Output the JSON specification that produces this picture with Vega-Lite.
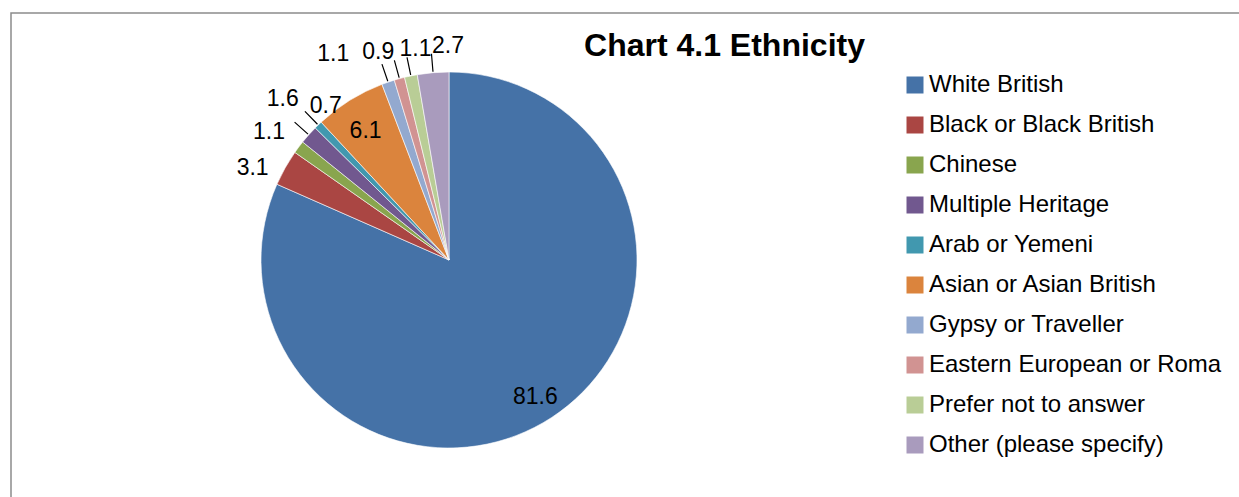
{
  "$schema": "https://vega.github.io/schema/vega-lite/v6.json",
  "width": 1239,
  "height": 497,
  "autosize": {"type": "fit", "contains": "padding"},
  "padding": {"left": 11, "top": 13, "right": -3, "bottom": -3},
  "background": "white",
  "config": {"view": {"stroke": "#8c8c8c", "strokeWidth": 1.5}, "font": "Liberation Sans"},
  "title": {"text": "Chart 4.1 Ethnicity", "fontSize": 32, "fontWeight": "bold", "font": "Liberation Sans", "color": "black", "anchor": "middle", "frame": "group", "offset": -39, "dx": 98, "dy": 36, "baseline": "alphabetic"},
  "data": {"values": [
    {"category": "White British", "value": 81.6, "rank": 1},
    {"category": "Black or Black British", "value": 3.1, "rank": 2},
    {"category": "Chinese", "value": 1.1, "rank": 3},
    {"category": "Multiple Heritage", "value": 1.6, "rank": 4},
    {"category": "Arab or Yemeni", "value": 0.7, "rank": 5},
    {"category": "Asian or Asian British", "value": 6.1, "rank": 6},
    {"category": "Gypsy or Traveller", "value": 1.1, "rank": 7},
    {"category": "Eastern European or Roma", "value": 0.9, "rank": 8},
    {"category": "Prefer not to answer", "value": 1.1, "rank": 9},
    {"category": "Other (please specify)", "value": 2.7, "rank": 10}
  ]},
  "encoding": {
    "theta": {"field": "value", "type": "quantitative", "stack": true},
    "order": {"field": "rank", "type": "quantitative"},
    "x": {"value": 438},
    "y": {"value": 247}
  },
  "layer": [
    {
      "mark": {"type": "arc", "radius": 188, "stroke": "white", "strokeWidth": 0.6},
      "encoding": {
        "color": {
          "field": "category", "type": "nominal",
          "scale": {
            "domain": ["White British", "Black or Black British", "Chinese", "Multiple Heritage", "Arab or Yemeni", "Asian or Asian British", "Gypsy or Traveller", "Eastern European or Roma", "Prefer not to answer", "Other (please specify)"],
            "range": ["#4572A7", "#AA4643", "#89A54E", "#71588F", "#4198AF", "#DB843D", "#93A9CF", "#D19392", "#B9CD96", "#A99BBD"]
          },
          "legend": {"orient": "none", "legendX": 892, "legendY": 60, "title": null, "symbolType": "square", "symbolSize": 289, "symbolStrokeWidth": 0, "symbolOpacity": 1, "labelFontSize": 24, "labelFont": "Liberation Sans", "labelColor": "black", "rowPadding": 16, "labelOffset": 2, "padding": 0, "labelLimit": 400}
        }
      }
    },
    {
      "mark": {"type": "arc", "radius": 207, "radius2": 189, "padAngle": 1.2, "fill": "transparent", "strokeWidth": 1.2},
      "encoding": {
        "stroke": {"condition": {"test": "indexof(['Multiple Heritage','Arab or Yemeni','Gypsy or Traveller','Eastern European or Roma','Prefer not to answer','Other (please specify)'], datum.category) >= 0", "value": "black"}, "value": "transparent"}
      }
    },
    {
      "mark": {"type": "text", "radius": 158, "dy": 5, "fontSize": 23, "font": "Liberation Sans", "color": "black", "align": "center", "baseline": "middle"},
      "encoding": {"text": {"field": "value", "type": "quantitative", "format": ".1f", "condition": {"test": "datum.category !== 'White British' && datum.category !== 'Asian or Asian British'", "value": ""}}}
    },
    {
      "mark": {"type": "text", "radius": 200, "dx": -22, "dy": 6, "fontSize": 23, "font": "Liberation Sans", "color": "black", "align": "center", "baseline": "middle"},
      "encoding": {"text": {"field": "value", "type": "quantitative", "format": ".1f", "condition": {"test": "datum.category !== 'Black or Black British'", "value": ""}}}
    },
    {
      "mark": {"type": "text", "radius": 200, "dx": -20, "dy": -8, "fontSize": 23, "font": "Liberation Sans", "color": "black", "align": "center", "baseline": "middle"},
      "encoding": {"text": {"field": "value", "type": "quantitative", "format": ".1f", "condition": {"test": "datum.category !== 'Chinese'", "value": ""}}}
    },
    {
      "mark": {"type": "text", "radius": 200, "dx": -17, "dy": -28, "fontSize": 23, "font": "Liberation Sans", "color": "black", "align": "center", "baseline": "middle"},
      "encoding": {"text": {"field": "value", "type": "quantitative", "format": ".1f", "condition": {"test": "datum.category !== 'Multiple Heritage'", "value": ""}}}
    },
    {
      "mark": {"type": "text", "radius": 200, "dx": 16, "dy": -10, "fontSize": 23, "font": "Liberation Sans", "color": "black", "align": "center", "baseline": "middle"},
      "encoding": {"text": {"field": "value", "type": "quantitative", "format": ".1f", "condition": {"test": "datum.category !== 'Arab or Yemeni'", "value": ""}}}
    },
    {
      "mark": {"type": "text", "radius": 200, "dx": -51, "dy": -17, "fontSize": 23, "font": "Liberation Sans", "color": "black", "align": "center", "baseline": "middle"},
      "encoding": {"text": {"field": "value", "type": "quantitative", "format": ".1f", "condition": {"test": "datum.category !== 'Gypsy or Traveller'", "value": ""}}}
    },
    {
      "mark": {"type": "text", "radius": 200, "dx": -18, "dy": -15, "fontSize": 23, "font": "Liberation Sans", "color": "black", "align": "center", "baseline": "middle"},
      "encoding": {"text": {"field": "value", "type": "quantitative", "format": ".1f", "condition": {"test": "datum.category !== 'Eastern European or Roma'", "value": ""}}}
    },
    {
      "mark": {"type": "text", "radius": 200, "dx": 7, "dy": -15, "fontSize": 23, "font": "Liberation Sans", "color": "black", "align": "center", "baseline": "middle"},
      "encoding": {"text": {"field": "value", "type": "quantitative", "format": ".1f", "condition": {"test": "datum.category !== 'Prefer not to answer'", "value": ""}}}
    },
    {
      "mark": {"type": "text", "radius": 200, "dx": 16, "dy": -15, "fontSize": 23, "font": "Liberation Sans", "color": "black", "align": "center", "baseline": "middle"},
      "encoding": {"text": {"field": "value", "type": "quantitative", "format": ".1f", "condition": {"test": "datum.category !== 'Other (please specify)'", "value": ""}}}
    }
  ]
}
